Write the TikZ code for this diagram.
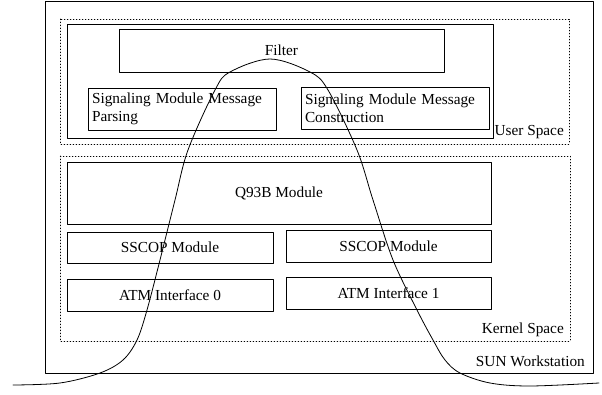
\documentclass[tikz,border=0pt]{standalone}
\usepackage{fontspec}
\setmainfont{Liberation Serif}
\usetikzlibrary{calc}

\begin{document}
\begin{tikzpicture}[x=1pt,y=-1pt,line cap=round,line join=round,
  font=\fontsize{15.3}{18}\selectfont,
  modbox/.style={draw,line width=0.8pt,inner sep=0pt,align=center},
  msgbox/.style={draw,line width=0.8pt,inner sep=4pt,text width=180pt,
    align=left,minimum height=42pt},
  spacebox/.style={draw,line width=0.8pt,dash pattern=on 0.8pt off 2.2pt},
  spacelbl/.style={anchor=east,inner sep=1pt}]

\useasboundingbox (0,0) rectangle (602,395);

% -----------------------
% Workstation
% -----------------------
\draw[line width=0.8pt] (45,1) rectangle (593,373);
\node[spacelbl] (sunlbl) at (586,361) {SUN Workstation};

% -----------------------
% User space
% -----------------------
\draw[spacebox] (60,19) rectangle (569,144);
\draw[line width=0.8pt] (67,24) rectangle (493,138);
\node[spacelbl] (userlbl) at (565,132) {User Space};

\node[modbox,minimum width=325pt,minimum height=43pt] (filter) at (281.5,50.5) {Filter};
\node[msgbox] (parse) at (182,109) {Signaling Module Message\\Parsing};
\node[msgbox] (build) at (395,108) {Signaling Module Message\\Construction};

% -----------------------
% Kernel space
% -----------------------
\draw[spacebox] (60,156) rectangle (570,341);
\node[spacelbl] (kernlbl) at (565,330) {Kernel Space};

\node[modbox,minimum width=424pt,minimum height=62pt] (q93b) at (279,193) {Q93B Module};
\node[modbox,minimum width=206pt,minimum height=31pt] (sscopA) at (170,247.5) {SSCOP Module};
\node[modbox,minimum width=205pt,minimum height=32pt] (sscopB) at (388.5,246) {SSCOP Module};
\node[modbox,minimum width=206pt,minimum height=32pt] (atmA) at (170,295) {ATM Interface 0};
\node[modbox,minimum width=205pt,minimum height=32pt] (atmB) at (388.5,293) {ATM Interface 1};

% -----------------------
% Signal path (bell curve)
% -----------------------
\draw[line width=0.8pt] plot[smooth,tension=0.55] coordinates {
  (13,385) (60,383) (100,373) (123,360) (137,340) (147,310) (160,260)
  (175,200) (188,150) (215,90) (230,72) (270,59) (310,72) (328,90)
  (357,150) (373,200) (393,260) (417,310) (433,340) (445,360) (460,373)
  (490,383) (530,386) (599,383)};

\end{tikzpicture}
\end{document}
